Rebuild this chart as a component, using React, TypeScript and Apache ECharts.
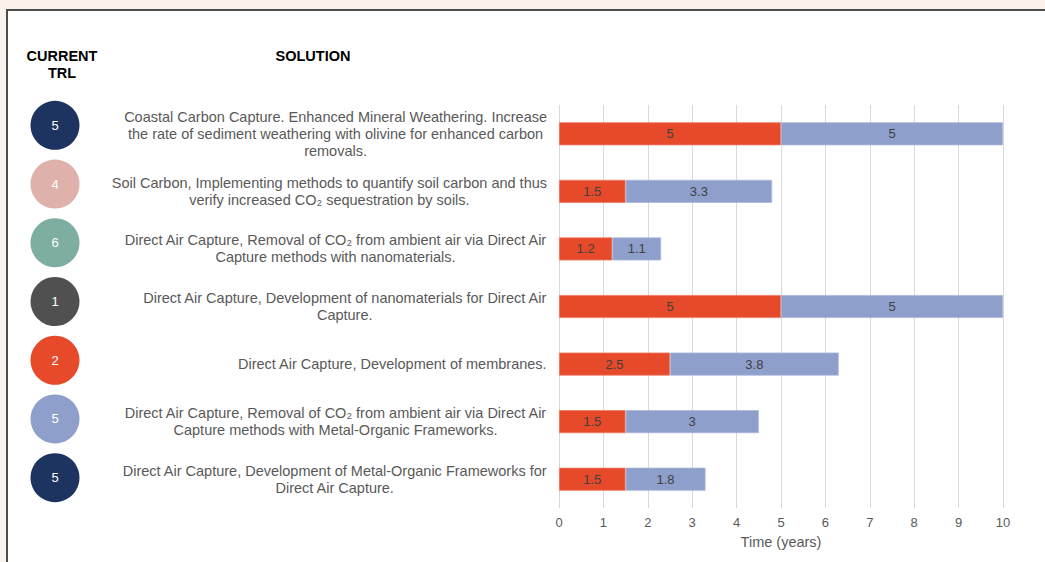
import React, { useEffect, useRef } from "react";
import * as echarts from "echarts";

const categories: string[] = [
  "Coastal Carbon Capture. Enhanced Mineral Weathering. Increase\nthe rate of sediment weathering with olivine for enhanced carbon\nremovals.",
  "Soil Carbon, Implementing methods to quantify soil carbon and thus\nverify increased CO₂ sequestration by soils.",
  "Direct Air Capture, Removal of CO₂ from ambient air via Direct Air\nCapture methods with nanomaterials.",
  "Direct Air Capture, Development of nanomaterials for Direct Air\nCapture.",
  "Direct Air Capture, Development of membranes.",
  "Direct Air Capture, Removal of CO₂ from ambient air via Direct Air\nCapture methods with Metal-Organic Frameworks.",
  "Direct Air Capture, Development of Metal-Organic Frameworks for\nDirect Air Capture.",
];

const firstPhase: number[] = [5, 1.5, 1.2, 5, 2.5, 1.5, 1.5];
const secondPhase: number[] = [5, 3.3, 1.1, 5, 3.8, 3, 1.8];
const currentTRL: number[] = [5, 4, 6, 1, 2, 5, 5];
const trlColors: string[] = ["#1d3461", "#dfb1aa", "#7eada1", "#505050", "#e64a2a", "#8e9fcb", "#1d3461"];
const xTicks = { min: 0, max: 10, interval: 1 };

const FONT = "'Liberation Sans', Arial, Helvetica, sans-serif";

export default function App() {
  const ref = useRef<HTMLDivElement>(null);
  useEffect(() => {
    if (!ref.current) return;
    const chart = echarts.init(ref.current, null, { renderer: "svg" });
    chart.setOption({
      animation: false,
      backgroundColor: "#fcf2ec",
      textStyle: { fontFamily: FONT },
      graphic: [
        {
          type: "rect",
          z: -10,
          shape: { x: 7, y: 10, width: 1200, height: 700 },
          style: { fill: "#ffffff", stroke: "#4d4d4d", lineWidth: 2 },
        },
        {
          type: "text",
          x: 62,
          y: 47,
          style: {
            text: "CURRENT\nTRL",
            fill: "#000000",
            font: `bold 14.5px ${FONT}`,
            align: "center",
            lineHeight: 17,
          },
        },
        {
          type: "text",
          x: 313,
          y: 47,
          style: {
            text: "SOLUTION",
            fill: "#000000",
            font: `bold 14.5px ${FONT}`,
            align: "center",
            lineHeight: 17,
          },
        },
      ],
      grid: [
        { left: 559, right: 42, top: 105, bottom: 54 },
        { left: 31, width: 48, top: 96, bottom: 55 },
      ],
      xAxis: [
        {
          type: "value",
          gridIndex: 0,
          min: xTicks.min,
          max: xTicks.max,
          interval: xTicks.interval,
          axisLine: { show: false },
          axisTick: { show: false },
          splitLine: { show: true, lineStyle: { color: "#d9d9d9", width: 1 } },
          axisLabel: { color: "#595959", fontSize: 13, margin: 8 },
          name: "Time (years)",
          nameLocation: "middle",
          nameGap: 26,
          nameTextStyle: { color: "#595959", fontSize: 14.5 },
        },
        {
          type: "category",
          gridIndex: 1,
          data: [""],
          show: false,
        },
      ],
      yAxis: [
        {
          type: "category",
          gridIndex: 0,
          inverse: true,
          data: categories,
          axisLine: { show: false },
          axisTick: { show: false },
          axisLabel: {
            margin: 12,
            formatter: (v: string) =>
              v
                .split("\n")
                .map((l) => `{c|${l}}`)
                .join("\n"),
            rich: {
              c: { align: "center", fontSize: 14.5, lineHeight: 17, color: "#595959", fontFamily: FONT },
            },
          },
        },
        {
          type: "category",
          gridIndex: 1,
          inverse: true,
          data: categories.map((_, i) => String(i)),
          show: false,
        },
      ],
      series: [
        {
          type: "bar",
          name: "Phase 1",
          xAxisIndex: 0,
          yAxisIndex: 0,
          stack: "t",
          barWidth: "40%",
          data: firstPhase,
          itemStyle: { color: "#e64a2a", borderColor: "#ef7a62", borderWidth: 0.8 },
          label: { show: true, position: "inside", color: "#404040", fontSize: 13 },
        },
        {
          type: "bar",
          name: "Phase 2",
          xAxisIndex: 0,
          yAxisIndex: 0,
          stack: "t",
          barWidth: "40%",
          data: secondPhase,
          itemStyle: { color: "#8e9fcb", borderColor: "#aab7da", borderWidth: 0.8 },
          label: { show: true, position: "inside", color: "#404040", fontSize: 13 },
        },
        {
          type: "scatter",
          xAxisIndex: 1,
          yAxisIndex: 1,
          symbol: "circle",
          symbolSize: 49,
          data: currentTRL.map((t, i) => ({
            value: [0, i, t],
            itemStyle: { color: trlColors[i], opacity: 1 },
          })),
          itemStyle: { opacity: 1 },
          label: {
            show: true,
            position: "inside",
            color: "#ffffff",
            fontSize: 13,
            formatter: (p: any) => String(p.value[2]),
          },
        },
      ],
    });
    return () => chart.dispose();
  }, []);
  return (
    <div
      ref={ref}
      style={{ position: "fixed", left: 0, top: 0, width: 1045, height: 562 }}
    />
  );
}
